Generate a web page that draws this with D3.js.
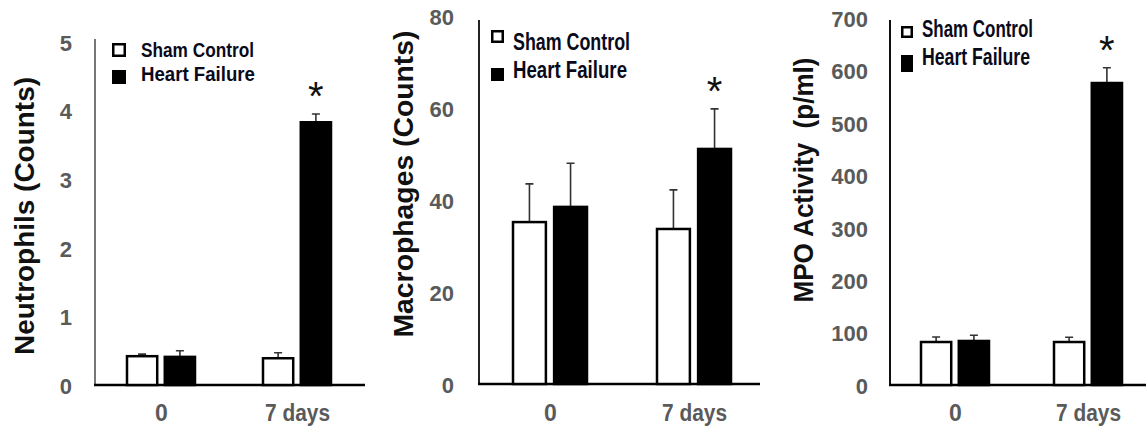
<!DOCTYPE html>
<html>
<head>
<meta charset="utf-8">
<title>Neutrophils, macrophages, MPO</title>
<script src="https://d3js.org/d3.v7.min.js"></script>
<style>
  body { margin: 0; background: #fff; }
  svg { display: block; }
  .tick text { font-family: "Liberation Sans", Arial, sans-serif; font-weight: bold; fill: #5a5a5a; }
  .ytitle { font-family: "Liberation Sans", Arial, sans-serif; font-weight: bold; fill: #111; white-space: pre; }
  .leg, .cat { font-family: "Liberation Sans Narrow", "Arial Narrow", "Liberation Sans", sans-serif; font-weight: bold; fill: #0a0a1a; }
</style>
</head>
<body>
<svg id="chart" width="1146" height="436"></svg>
<script>
// categories and series
var categories = ["0", "7 days"];
var seriesNames = ["Sham Control", "Heart Failure"];

// neutrophils
var neutroSham = [0.42, 0.39];
var neutroShamErr = [0.03, 0.08];
var neutroHF = [0.41, 3.83];
var neutroHFErr = [0.09, 0.12];
var neutroTicks = [0, 1, 2, 3, 4, 5];

// macrophages
var macroSham = [35.2, 33.7];
var macroShamErr = [8.3, 8.5];
var macroHF = [38.5, 51.1];
var macroHFErr = [9.5, 8.7];
var macroTicks = [0, 20, 40, 60, 80];

// MPO activity
var mpoSham = [82, 82];
var mpoShamErr = [9.5, 9];
var mpoHF = [84, 576];
var mpoHFErr = [11, 29];
var mpoTicks = [0, 100, 200, 300, 400, 500, 600, 700];

var svg = d3.select("#chart");

var panels = [
  { title: "Neutrophils (Counts)", sham: neutroSham, shamErr: neutroShamErr, hf: neutroHF, hfErr: neutroHFErr,
    ticks: neutroTicks, yMax: 5, yBase: 385, yTop: 42, axisX: 95, axisTop: 39, axisRight: 365, axisColor: "#777",
    groups: [161, 297], half: 34, tickRight: 72, titleX: 34, titleY: 216, titleLen: 278,
    leg: { x: 112, size: 14, boxY: [43, 70], textX: 141, base: [57, 81], fs: 21, len: [113, 114] } },
  { title: "Macrophages (Counts)", sham: macroSham, shamErr: macroShamErr, hf: macroHF, hfErr: macroHFErr,
    ticks: macroTicks, yMax: 80, yBase: 384, yTop: 16, axisX: 479, axisTop: 20, axisRight: 760, axisColor: "#222",
    groups: [550, 694], half: 37, tickRight: 454, titleX: 413, titleY: 184, titleLen: 307,
    leg: { x: 491, size: 13, boxY: [30, 68], textX: 513, base: [50, 78], fs: 23, len: [117, 114] } },
  { title: "MPO Activity  (p/ml)", sham: mpoSham, shamErr: mpoShamErr, hf: mpoHF, hfErr: mpoHFErr,
    ticks: mpoTicks, yMax: 700, yBase: 385, yTop: 18, axisX: 890, axisTop: 20, axisRight: 1146, axisColor: "#111",
    groups: [955, 1088], half: 34, tickRight: 868, titleX: 813, titleY: 180, titleLen: 245,
    leg: { x: 901, size: 12, boxY: [26, 55], textX: 922, base: [37, 65], fs: 23, len: [111, 108] } }
];

panels.forEach(function(p) {
  var g = svg.append("g");
  var y = d3.scaleLinear().domain([0, p.yMax]).range([p.yBase, p.yTop]);
  var x = d3.scalePoint().domain(categories).range(p.groups);
  var inner = d3.scaleBand().domain(seriesNames).range([-p.half, p.half]).paddingInner(0.2);

  // y tick labels
  var yAxis = g.append("g")
      .attr("transform", "translate(" + p.tickRight + ",0)")
      .call(d3.axisLeft(y).tickValues(p.ticks).tickFormat(d3.format("d")).tickSize(0).tickPadding(0));
  yAxis.select(".domain").remove();
  yAxis.selectAll("text").attr("font-size", 22).attr("dy", "0.38em");

  // axis lines
  g.append("line").attr("x1", p.axisX).attr("x2", p.axisX).attr("y1", p.axisTop).attr("y2", p.yBase)
    .attr("stroke", p.axisColor).attr("stroke-width", 2);
  g.append("line").attr("x1", p.axisX - 1).attr("x2", p.axisRight).attr("y1", p.yBase).attr("y2", p.yBase)
    .attr("stroke", "#000").attr("stroke-width", 2.5);

  // bars + error bars
  var rows = [];
  categories.forEach(function(c, i) {
    rows.push({ cat: c, s: seriesNames[0], v: p.sham[i], e: p.shamErr[i], fill: "#fff" });
    rows.push({ cat: c, s: seriesNames[1], v: p.hf[i], e: p.hfErr[i], fill: "#000" });
  });

  g.selectAll(".err").data(rows).enter().append("path")
    .attr("class", "err")
    .attr("d", function(d) {
      var cx = x(d.cat) + inner(d.s) + inner.bandwidth() / 2;
      var t = y(d.v + d.e);
      return "M" + cx + "," + y(d.v) + "V" + t + "M" + (cx - 4) + "," + t + "H" + (cx + 4);
    })
    .attr("stroke", "#333").attr("stroke-width", 1.6).attr("fill", "none");

  g.selectAll(".bar").data(rows).enter().append("rect")
    .attr("class", "bar")
    .attr("x", function(d) { return x(d.cat) + inner(d.s); })
    .attr("width", inner.bandwidth())
    .attr("y", function(d) { return y(d.v); })
    .attr("height", function(d) { return p.yBase - y(d.v); })
    .attr("fill", function(d) { return d.fill; })
    .attr("stroke", "#000").attr("stroke-width", 2.5);

  // significance mark over the 7 day heart failure bar
  var sig = rows[3];
  g.append("text")
    .attr("x", x(sig.cat) + inner(sig.s) + inner.bandwidth() / 2)
    .attr("y", y(sig.v + sig.e) - 27 + 23)
    .attr("text-anchor", "middle")
    .attr("font-family", "Liberation Sans, Arial, sans-serif")
    .attr("font-size", 40)
    .attr("fill", "#111")
    .text("*");

  // category labels
  var xAxis = g.append("g")
      .attr("transform", "translate(0," + 421 + ")")
      .call(d3.axisBottom(x).tickSize(0).tickPadding(0));
  xAxis.select(".domain").remove();
  xAxis.selectAll("text").attr("class", "cat").attr("dy", 0).attr("font-size", 23)
    .attr("textLength", function(d) { return d === "0" ? null : 65; })
    .attr("lengthAdjust", "spacingAndGlyphs");

  // y title
  g.append("text")
    .attr("class", "ytitle")
    .attr("transform", "translate(" + p.titleX + "," + p.titleY + ") rotate(-90)")
    .attr("text-anchor", "middle")
    .attr("font-size", 27)
    .attr("textLength", p.titleLen)
    .attr("lengthAdjust", "spacingAndGlyphs")
    .text(p.title);

  // legend
  var L = p.leg;
  seriesNames.forEach(function(name, i) {
    g.append("rect")
      .attr("x", L.x + 1.25).attr("y", L.boxY[i] + 1.25)
      .attr("width", L.size - 2.5).attr("height", (i === 1 && p.title.indexOf("MPO") === 0 ? 17 : L.size) - 2.5)
      .attr("fill", i === 0 ? "#fff" : "#000")
      .attr("stroke", "#000").attr("stroke-width", 2.5);
    g.append("text")
      .attr("class", "leg")
      .attr("x", L.textX).attr("y", L.base[i])
      .attr("font-size", L.fs)
      .attr("textLength", L.len[i])
      .attr("lengthAdjust", "spacingAndGlyphs")
      .text(name);
  });
});
</script>
</body>
</html>
